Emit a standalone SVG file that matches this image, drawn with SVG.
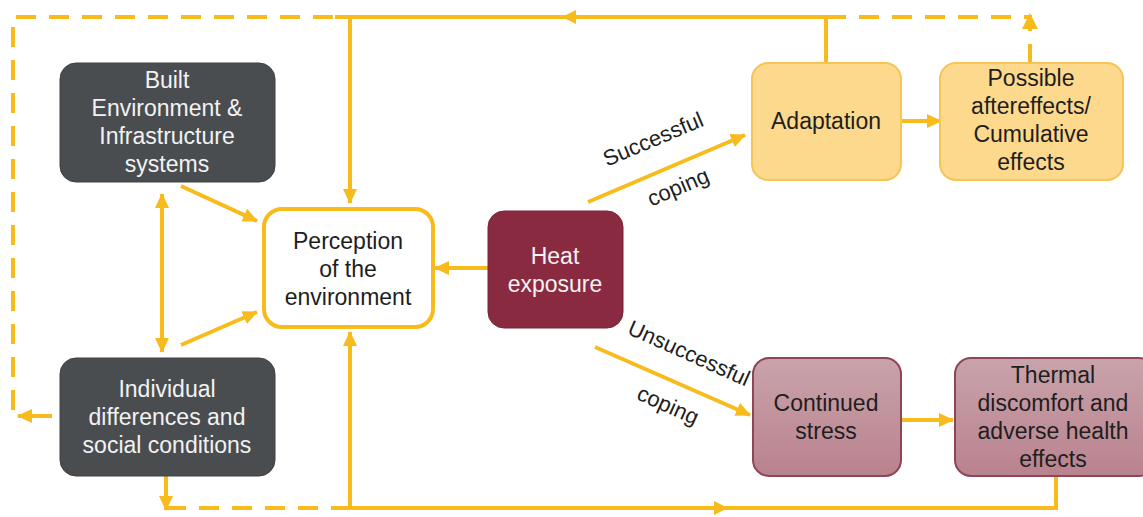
<svg xmlns="http://www.w3.org/2000/svg" width="1143" height="517" viewBox="0 0 1143 517">
  <defs>
    <marker id="ah" markerUnits="userSpaceOnUse" markerWidth="16" markerHeight="16" refX="14" refY="8" orient="auto">
      <path d="M0,1 L15,8 L0,15 Z" fill="#f8bb1c"/>
    </marker>
    <marker id="ahs" markerUnits="userSpaceOnUse" markerWidth="16" markerHeight="16" refX="1" refY="8" orient="auto">
      <path d="M15,1 L0,8 L15,15 Z" fill="#f8bb1c"/>
    </marker>
    <linearGradient id="stressFill" x1="0" y1="0" x2="0" y2="1">
      <stop offset="0" stop-color="#c9a3ab"/>
      <stop offset="1" stop-color="#b9828e"/>
    </linearGradient>
    <style>
      .ln { fill: none; stroke: #f8bb1c; stroke-width: 4; }
      .dash { stroke-dasharray: 20 13; }
      .head { fill: #f8bb1c; }
      .dark { fill: #4a4d50; stroke: #3e4043; stroke-width: 1; }
      .heat { fill: #8a2a40; stroke: #7a2436; stroke-width: 1; }
      .percep { fill: #ffffff; stroke: #f8bb1c; stroke-width: 4; }
      .adapt { fill: #fdd98d; stroke: #f6c554; stroke-width: 2; }
      .stress { fill: url(#stressFill); stroke: #8e4556; stroke-width: 2; }
      text { font-family: "Liberation Sans", Arial, sans-serif; font-size: 23px; text-anchor: middle; }
      .lt { fill: #f2f2f2; }
      .dk { fill: #1e1e1e; }
      .lab { fill: #1e1e1e; font-size: 22px; }
    </style>
  </defs>

  <!-- connectors -->
  <g id="connectors">
    <!-- top feedback line -->
    <path class="ln dash" d="M13,410 V17 H335"/>
    <path class="ln" d="M335,17 H826 V62"/>
    <polygon class="head" points="562,17 576,10 576,24"/>
    <path class="ln dash" d="M826,17 H1030 V62"/>
    <polygon class="head" points="1030,13 1022,29 1038,29"/>
    <path class="ln" d="M350,17 V203" marker-end="url(#ah)"/>

    <!-- individual to left loop -->
    <path class="ln" d="M52,416 H18" marker-end="url(#ah)"/>

    <!-- bottom feedback line -->
    <path class="ln" d="M166,476 V510" marker-end="url(#ah)"/>
    <path class="ln dash" d="M166,508 H335"/>
    <path class="ln" d="M335,508 H1056 V476"/>
    <polygon class="head" points="728,508 714,501 714,515"/>
    <path class="ln" d="M350,508 V332" marker-end="url(#ah)"/>

    <!-- left side -->
    <path class="ln" d="M162,194 V352" marker-start="url(#ahs)" marker-end="url(#ah)"/>
    <path class="ln" d="M181,186 L257,221" marker-end="url(#ah)"/>
    <path class="ln" d="M181,345 L257,312" marker-end="url(#ah)"/>

    <!-- heat exposure outputs -->
    <path class="ln" d="M488,268 L435,268" marker-end="url(#ah)"/>
    <path class="ln" d="M588,202 L745,135" marker-end="url(#ah)"/>
    <path class="ln" d="M595,347 L750,415" marker-end="url(#ah)"/>

    <!-- right side chains -->
    <path class="ln" d="M901,121 L941,121" marker-end="url(#ah)"/>
    <path class="ln" d="M901,420 L953,420" marker-end="url(#ah)"/>

    <!-- coping labels -->
    <text class="lab" transform="translate(656,146) rotate(-23)">Successful</text>
    <text class="lab" transform="translate(681,194) rotate(-23)">coping</text>
    <text class="lab" transform="translate(686,360) rotate(24)">Unsuccessful</text>
    <text class="lab" transform="translate(665,412) rotate(24)">coping</text>
  </g>

  <g id="built">
    <rect class="dark" x="60" y="63" width="215" height="119" rx="16"/>
    <text class="lt" x="167" y="88">Built</text>
    <text class="lt" x="167" y="116">Environment &amp;</text>
    <text class="lt" x="167" y="144">Infrastructure</text>
    <text class="lt" x="167" y="172">systems</text>
  </g>

  <g id="individual">
    <rect class="dark" x="60" y="358" width="215" height="118" rx="16"/>
    <text class="lt" x="167" y="397">Individual</text>
    <text class="lt" x="167" y="425">differences and</text>
    <text class="lt" x="167" y="453">social conditions</text>
  </g>

  <g id="perception">
    <rect class="percep" x="264" y="209" width="169" height="118" rx="18"/>
    <text class="dk" x="348" y="249">Perception</text>
    <text class="dk" x="348" y="277">of the</text>
    <text class="dk" x="348" y="305">environment</text>
  </g>

  <g id="heat">
    <rect class="heat" x="488" y="211" width="135" height="117" rx="16"/>
    <text class="lt" x="555" y="264">Heat</text>
    <text class="lt" x="555" y="292">exposure</text>
  </g>

  <g id="adaptation">
    <rect class="adapt" x="752" y="63" width="149" height="117" rx="16"/>
    <text class="dk" x="826" y="129">Adaptation</text>
  </g>

  <g id="aftereffects">
    <rect class="adapt" x="940" y="63" width="183" height="117" rx="16"/>
    <text class="dk" x="1031" y="86">Possible</text>
    <text class="dk" x="1031" y="114">aftereffects/</text>
    <text class="dk" x="1031" y="142">Cumulative</text>
    <text class="dk" x="1031" y="170">effects</text>
  </g>

  <g id="stress">
    <rect class="stress" x="753" y="358" width="148" height="118" rx="16"/>
    <text class="dk" x="826" y="411">Continued</text>
    <text class="dk" x="826" y="439">stress</text>
  </g>

  <g id="thermal">
    <rect class="stress" x="955" y="358" width="200" height="118" rx="16"/>
    <text class="dk" x="1053" y="383">Thermal</text>
    <text class="dk" x="1053" y="411">discomfort and</text>
    <text class="dk" x="1053" y="439">adverse health</text>
    <text class="dk" x="1053" y="467">effects</text>
  </g>
</svg>
